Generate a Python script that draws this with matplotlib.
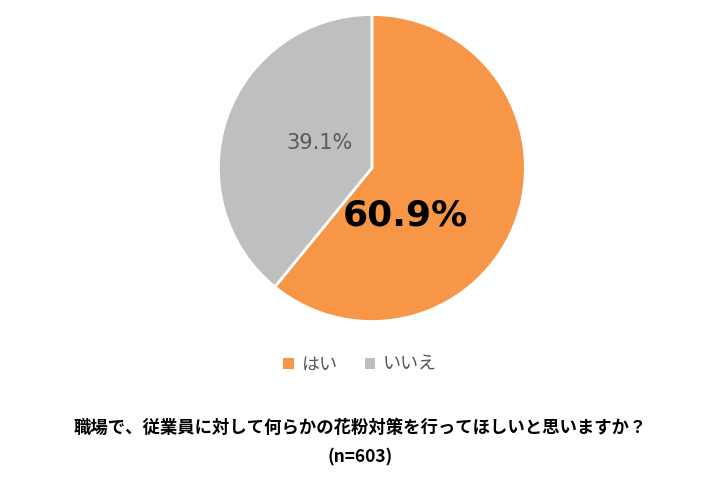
import matplotlib.pyplot as plt
from matplotlib.patches import Patch

plt.rcParams['font.family'] = ['Noto Sans CJK JP', 'DejaVu Sans']

labels = ["はい", "いいえ"]
values = [60.9, 39.1]
colors = ["#F79646", "#BFBFBF"]

fig = plt.figure(figsize=(7.2, 4.8), dpi=100)
ax = fig.add_axes([0.301, 0.327, 0.431, 0.646])
wedges, _ = ax.pie(values, colors=colors, startangle=90, counterclock=False,
                   wedgeprops=dict(edgecolor="white", linewidth=2))
ax.set_aspect("equal")
ax.set_xlim(-1.01, 1.01)
ax.set_ylim(-1.01, 1.01)

# percentage labels
fig.text(405 / 720, 1 - 215 / 480, f"{values[0]}%", fontsize=26, fontweight="bold",
         color="black", ha="center", va="center", family="DejaVu Sans")
fig.text(320 / 720, 1 - 143 / 480, f"{values[1]}%", fontsize=15,
         color="#595959", ha="center", va="center", family="DejaVu Sans")

handles = [Patch(facecolor=c, edgecolor="none") for c in colors]
fig.legend(handles, labels, loc="center", bbox_to_anchor=(0.5, 1 - 365 / 480),
           ncol=2, frameon=False, fontsize=13, handlelength=0.6, handleheight=0.6,
           handletextpad=0.4, columnspacing=1.5, labelcolor="#595959")

fig.text(0.5, 1 - 428 / 480, "職場で、従業員に対して何らかの花粉対策を行ってほしいと思いますか？",
         fontsize=12.5, fontweight="bold", ha="center", va="center")
fig.text(0.5, 1 - 457 / 480, "(n=603)", fontsize=12.5, fontweight="bold",
         ha="center", va="center")

fig.savefig("out.png", dpi=100)
